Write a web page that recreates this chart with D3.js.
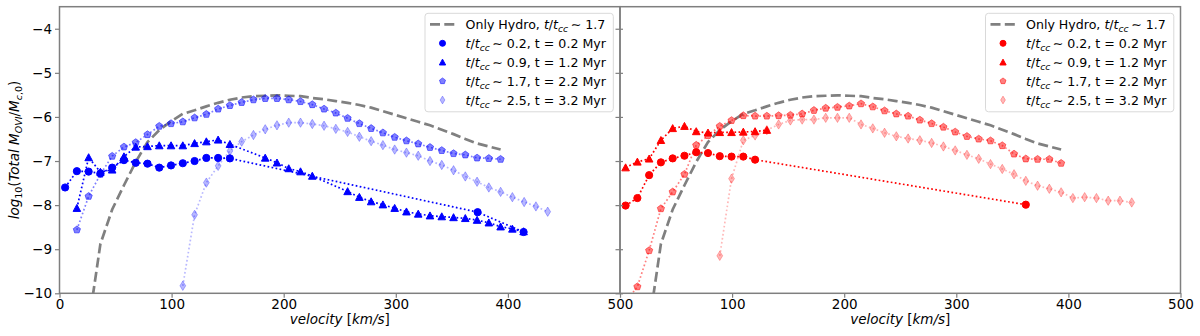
<!DOCTYPE html>
<html><head><meta charset="utf-8">
<script src="https://cdn.jsdelivr.net/npm/d3@7"></script>
<style>
html,body{margin:0;padding:0;background:#fff;}
svg{display:block;font-family:"DejaVu Sans",sans-serif;}
</style></head>
<body>
<svg id="chart" width="1200" height="336"></svg>
<script>
// ---------------- DATA ----------------
const xTicks = [0, 100, 200, 300, 400, 500];
const yTicks = [-10, -9, -8, -7, -6, -5, -4];

// Only-hydro reference curve (same in both panels)
const hydroV = [26,36.5,47,57.5,68,78.5,89,99.5,110,120.5,131,141.5,152,162.5,173,183.5,194,204.5,215,225.5,236,246.5,257,267.5,278,288.5,299,309.5,320,330.5,341,351.5,362,372.5,383,393.5];
const hydroM = [-10.7,-8.88,-8.1,-7.55,-7.02,-6.57,-6.3,-6.1,-5.93,-5.85,-5.76,-5.68,-5.61,-5.56,-5.53,-5.52,-5.51,-5.52,-5.53,-5.57,-5.6,-5.64,-5.68,-5.73,-5.79,-5.87,-5.95,-6.03,-6.11,-6.19,-6.29,-6.39,-6.5,-6.6,-6.67,-6.74];

// Left panel (blue)
const blue02V = [5,15.5,26,36.5,47,57.5,68,78.5,89,99.5,110,120.5,131,141.5,152,373,414];
const blue02M = [-7.60,-7.23,-7.24,-7.28,-7.15,-6.98,-7.04,-7.06,-7.15,-7.10,-7.05,-7.00,-6.93,-6.93,-6.94,-8.16,-8.61];
const blue09V = [15.5,26,36.5,47,57.5,68,78.5,89,99.5,110,120.5,131,141.5,152,183.5,194,204.5,215,225.5,257,267.5,278,288.5,299,309.5,320,330.5,341,351.5,362,372.5,383,393.5,404,414];
const blue09M = [-8.07,-6.92,-7.25,-7.20,-6.90,-6.68,-6.67,-6.65,-6.65,-6.65,-6.60,-6.56,-6.52,-6.62,-6.93,-7.04,-7.17,-7.24,-7.34,-7.69,-7.82,-7.92,-7.99,-8.07,-8.15,-8.20,-8.24,-8.26,-8.28,-8.30,-8.34,-8.40,-8.49,-8.54,-8.60];
const blue17V = [15.5,26,36.5,47,57.5,68,78.5,89,99.5,110,120.5,131,141.5,152,162.5,173,183.5,194,204.5,215,225.5,236,246.5,257,267.5,278,288.5,299,309.5,320,330.5,341,351.5,362,372.5,383,393.5];
const blue17M = [-8.56,-7.80,-7.30,-6.89,-6.68,-6.58,-6.40,-6.21,-6.15,-6.11,-6.02,-5.94,-5.82,-5.74,-5.67,-5.61,-5.58,-5.58,-5.61,-5.65,-5.72,-5.82,-5.91,-6.03,-6.15,-6.26,-6.36,-6.46,-6.54,-6.61,-6.69,-6.76,-6.83,-6.86,-6.93,-6.94,-6.96];
const blue25V = [110,120.5,131,141.5,152,162.5,173,183.5,194,204.5,215,225.5,236,246.5,257,267.5,278,288.5,299,309.5,320,330.5,341,351.5,362,372.5,383,393.5,404,414.5,425,435.5];
const blue25M = [-9.83,-8.22,-7.49,-7.11,-6.77,-6.56,-6.41,-6.28,-6.19,-6.13,-6.13,-6.16,-6.20,-6.27,-6.34,-6.45,-6.55,-6.64,-6.74,-6.81,-6.88,-7.00,-7.09,-7.21,-7.35,-7.47,-7.60,-7.70,-7.82,-7.93,-8.03,-8.15];

// Right panel (red)
const red02V = [5,15.5,26,36.5,47,57.5,68,78.5,89,99.5,110,120.5,362];
const red02M = [-8.01,-7.84,-7.32,-7.03,-6.94,-6.88,-6.80,-6.82,-6.89,-6.90,-6.90,-6.97,-7.99];
const red09V = [5,15.5,26,36.5,47,57.5,68,78.5,89,99.5,110,120.5,131];
const red09M = [-7.15,-7.02,-6.95,-6.53,-6.26,-6.21,-6.33,-6.36,-6.35,-6.35,-6.34,-6.33,-6.30];
const red17V = [5,15.5,26,36.5,47,57.5,68,78.5,89,99.5,110,120.5,131,141.5,152,162.5,173,183.5,194,204.5,215,225.5,236,246.5,257,267.5,278,288.5,299,309.5,320,330.5,341,351.5,362,372.5,383,393.5];
const red17M = [-10.2,-9.85,-9.03,-8.08,-7.70,-7.30,-6.64,-6.42,-6.21,-6.08,-5.97,-5.98,-5.98,-5.97,-5.96,-5.93,-5.85,-5.80,-5.78,-5.75,-5.70,-5.77,-5.86,-5.93,-5.98,-6.07,-6.15,-6.23,-6.34,-6.44,-6.50,-6.54,-6.65,-6.84,-6.95,-6.96,-6.96,-7.05];
const red25V = [89,99.5,110,120.5,131,141.5,152,162.5,173,183.5,194,204.5,215,225.5,236,246.5,257,267.5,278,288.5,299,309.5,320,330.5,341,351.5,362,372.5,383,393.5,404,414.5,425,435.5,446,456.5];
const red25M = [-9.15,-7.40,-6.53,-6.42,-6.30,-6.17,-6.08,-6.06,-6.06,-6.02,-6.02,-6.02,-6.17,-6.26,-6.36,-6.44,-6.49,-6.53,-6.59,-6.67,-6.76,-6.86,-6.95,-7.07,-7.18,-7.30,-7.45,-7.56,-7.63,-7.71,-7.84,-7.82,-7.84,-7.90,-7.90,-7.94];

const ttcc = ["0.2","0.9","1.7","2.5"];
const tMyr = ["0.2","1.2","2.2","3.2"];
const hydroTtcc = "1.7";

// ---------------- LAYOUT ----------------
const svg = d3.select("#chart");
const plotTop = 6.7, plotBottom = 293.3;
const y = d3.scaleLinear().domain([-10, -3.5]).range([plotBottom, plotTop]);
const panels = [
  {x: d3.scaleLinear().domain([0,500]).range([59.5,620]), color:"#0000ff",
   series:[[blue02V,blue02M],[blue09V,blue09M],[blue17V,blue17M],[blue25V,blue25M]], leftLabels:true},
  {x: d3.scaleLinear().domain([0,500]).range([620,1180.5]), color:"#ff0000",
   series:[[red02V,red02M],[red09V,red09M],[red17V,red17M],[red25V,red25M]], leftLabels:false}
];
const alphas = [1, 1, 0.5, 0.28];
const shapes = ["circle","triangle","pentagon","diamond"];
const spineColor = "#7f7f7f";
const legendFont = "12.6px";

function markerPath(shape, s) {
  if (shape === "circle") return d3.symbol(d3.symbolCircle, Math.PI*s*s)();
  if (shape === "triangle") {
    const r = s*1.05;
    return `M0,${-r}L${r},${r*0.85}L${-r},${r*0.85}Z`;
  }
  if (shape === "pentagon") {
    const r = s*1.05, pts=[];
    for (let i=0;i<5;i++){const a=-Math.PI/2+i*2*Math.PI/5; pts.push([r*Math.cos(a), r*Math.sin(a)]);}
    return "M"+pts.map(p=>p[0].toFixed(2)+","+p[1].toFixed(2)).join("L")+"Z";
  }
  const r = s*1.3;
  return `M0,${-r}L${r*0.62},0L0,${r}L${-r*0.62},0Z`;
}

function ttccLabel(t, rest) {
  t.append("tspan").attr("font-style","italic").text("t");
  t.append("tspan").text("/");
  t.append("tspan").attr("font-style","italic").text("t");
  t.append("tspan").attr("font-style","italic").attr("font-size","9.2px").attr("dy",3).text("cc");
  t.append("tspan").attr("dy",-3).text("\u2009\u223C  " + rest);
}

panels.forEach((p, pi) => {
  const x = p.x;
  const x0 = x.range()[0], x1 = x.range()[1];
  const clipId = "clip"+pi;
  svg.append("clipPath").attr("id", clipId).append("rect")
    .attr("x", x0).attr("y", plotTop).attr("width", x1-x0).attr("height", plotBottom-plotTop);
  const g = svg.append("g").attr("clip-path", `url(#${clipId})`);

  const line = d3.line().x(d=>x(d[0])).y(d=>y(d[1]));
  g.append("path").datum(hydroV.map((v,i)=>[v,hydroM[i]]))
    .attr("d", line).attr("fill","none").attr("stroke","#808080")
    .attr("stroke-width",2.7).attr("stroke-dasharray","10,4.3");

  p.series.forEach((s, si) => {
    const data = s[0].map((v,i)=>[v, s[1][i]]);
    const a = alphas[si];
    g.append("path").datum(data).attr("d", line).attr("fill","none")
      .attr("stroke", p.color).attr("stroke-opacity", a)
      .attr("stroke-width", 1.7).attr("stroke-dasharray","1.7,2.4");
    g.selectAll(null).data(data).enter().append("path")
      .attr("d", markerPath(shapes[si], 3.6))
      .attr("transform", d=>`translate(${x(d[0])},${y(d[1])})`)
      .attr("fill", p.color).attr("fill-opacity", a)
      .attr("stroke", p.color).attr("stroke-opacity", a).attr("stroke-width", 1);
  });

  svg.append("rect").attr("x", x0).attr("y", plotTop).attr("width", x1-x0).attr("height", plotBottom-plotTop)
    .attr("fill","none").attr("stroke", spineColor).attr("stroke-width",1.5);

  const xa = svg.append("g").attr("transform", `translate(0,${plotBottom})`)
    .call(d3.axisBottom(x).tickValues(p.leftLabels ? xTicks : xTicks.slice(1)).tickSize(4.5).tickPadding(1.5)
      .tickFormat(d3.format("d")));
  xa.select(".domain").remove();
  xa.selectAll(".tick line").attr("stroke", spineColor).attr("stroke-width",1.2);
  xa.selectAll("text").attr("font-size","13.5px").attr("fill","#000").attr("font-family","DejaVu Sans");

  const ya = svg.append("g").attr("transform", `translate(${x0},0)`)
    .call(d3.axisLeft(y).tickValues(yTicks).tickSize(4.5).tickPadding(3)
      .tickFormat(p.leftLabels ? (d=>d3.format("d")(d)) : (()=> "")));
  ya.select(".domain").remove();
  ya.selectAll(".tick line").attr("stroke", spineColor).attr("stroke-width",1.2);
  if (!p.leftLabels) ya.selectAll(".tick line").attr("x1", 3);
  ya.selectAll("text").attr("font-size","13.5px").attr("fill","#000").attr("font-family","DejaVu Sans");

  const xl = svg.append("text").attr("x", (x0+x1)/2).attr("y", 323.5).attr("text-anchor","middle")
    .attr("font-size","13.5px").attr("font-style","italic").text("velocity ");
  xl.append("tspan").attr("font-style","normal").text("[");
  xl.append("tspan").text("km/s");
  xl.append("tspan").attr("font-style","normal").text("]");

  const lx = x0 + 365.5, ly = 13.3, lw = 188.3, lh = 98.5;
  const lg = svg.append("g");
  lg.append("rect").attr("x", lx).attr("y", ly).attr("width", lw).attr("height", lh)
    .attr("rx", 3).attr("fill","#fff").attr("fill-opacity",0.85).attr("stroke","#d9d9d9").attr("stroke-width",1);
  const rows = [24.3, 43.3, 62.3, 81.1, 100];
  const hx = lx + 17.5, tx = lx + 40.5;
  lg.append("line").attr("x1", lx+5).attr("x2", lx+30).attr("y1", rows[0]).attr("y2", rows[0])
    .attr("stroke","#808080").attr("stroke-width",2.7).attr("stroke-dasharray","10,4.3");
  const t0 = lg.append("text").attr("x", tx).attr("y", rows[0]+4.6).attr("font-size",legendFont).text("Only Hydro, ");
  ttccLabel(t0, hydroTtcc);
  for (let i=0;i<4;i++){
    const ry = rows[i+1];
    lg.append("path").attr("d", markerPath(shapes[i], 3.0))
      .attr("transform", `translate(${hx},${ry})`)
      .attr("fill", p.color).attr("fill-opacity", alphas[i])
      .attr("stroke", p.color).attr("stroke-opacity", alphas[i]).attr("stroke-width",1);
    const t = lg.append("text").attr("x", tx).attr("y", ry+4.6).attr("font-size",legendFont);
    ttccLabel(t, `${ttcc[i]}, t = ${tMyr[i]} Myr`);
  }
});

const yl = svg.append("text").attr("transform","translate(19,150) rotate(-90)")
  .attr("text-anchor","middle").attr("font-size","13.5px");
yl.append("tspan").attr("font-style","italic").text("log");
yl.append("tspan").attr("font-size","9.5px").attr("dy",3).text("10");
yl.append("tspan").attr("dy",-3).text("(");
yl.append("tspan").attr("font-style","italic").text("Total M");
yl.append("tspan").attr("font-style","italic").attr("font-size","9.5px").attr("dy",3).text("OVI");
yl.append("tspan").attr("dy",-3).text("/");
yl.append("tspan").attr("font-style","italic").text("M");
yl.append("tspan").attr("font-style","italic").attr("font-size","9.5px").attr("dy",3).text("c");
yl.append("tspan").attr("font-size","9.5px").text(",0");
yl.append("tspan").attr("dy",-3).text(")");
</script>
</body></html>
